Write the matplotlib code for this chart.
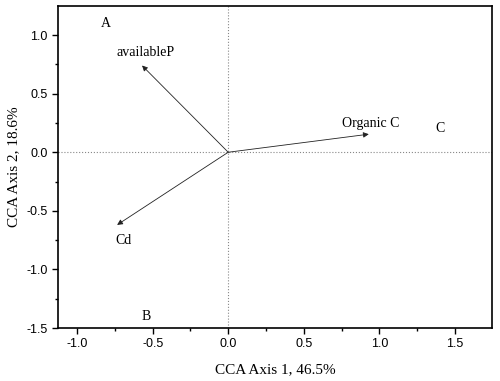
import matplotlib
matplotlib.use("Agg")
import matplotlib.pyplot as plt
from matplotlib.ticker import MultipleLocator

plt.rcParams['axes.unicode_minus'] = False

# vectores ambientales (punta de flecha)
env_names = ["availableP", "Organic C", "Cd"]
env_x = [-0.57, 0.93, -0.735]
env_y = [0.74, 0.154, -0.62]
# posiciones de las etiquetas
lab_x = [-0.55, 0.94, -0.69]
lab_y = [0.85, 0.245, -0.75]

# sitios
site_names = ["A", "B", "C"]
site_x = [-0.81, -0.54, 1.40]
site_y = [1.10, -1.40, 0.205]

fig = plt.figure(figsize=(5, 3.81), dpi=100)
ax = fig.add_axes([0.116, 0.139, 0.868, 0.845])

ax.axvline(0, color="#888888", linestyle=":", linewidth=0.8)
ax.axhline(0, color="#888888", linestyle=":", linewidth=0.8)

for name, x, y, lx, ly in zip(env_names, env_x, env_y, lab_x, lab_y):
    ax.annotate("", xy=(x, y), xytext=(0, 0),
                arrowprops=dict(arrowstyle="-|>", color="#222222", lw=0.6,
                                mutation_scale=8, shrinkA=0, shrinkB=0))
    ax.text(lx, ly, name, family="Liberation Serif", fontsize=10,
            ha="center", va="center")

for name, x, y in zip(site_names, site_x, site_y):
    ax.text(x, y, name, family="Liberation Serif", fontsize=10,
            ha="center", va="center")

ax.set_xlim(-1.126, 1.745)
ax.set_ylim(-1.5, 1.247)
ax.xaxis.set_major_locator(MultipleLocator(0.5))
ax.xaxis.set_minor_locator(MultipleLocator(0.25))
ax.yaxis.set_major_locator(MultipleLocator(0.5))
ax.yaxis.set_minor_locator(MultipleLocator(0.25))
ax.tick_params(which="both", direction="out", top=False, right=False,
               width=1.0)
ax.tick_params(which="major", length=4, labelsize=9)
ax.tick_params(which="minor", length=2.5)
for lab in ax.get_xticklabels() + ax.get_yticklabels():
    lab.set_family("Liberation Sans")
for sp in ax.spines.values():
    sp.set_linewidth(1.2)

ax.set_xlabel("CCA Axis 1, 46.5%", family="Liberation Serif", fontsize=11,
              labelpad=9)
ax.set_ylabel("CCA Axis 2, 18.6%", family="Liberation Serif", fontsize=11,
              labelpad=4)

fig.savefig("out.png", dpi=100)
